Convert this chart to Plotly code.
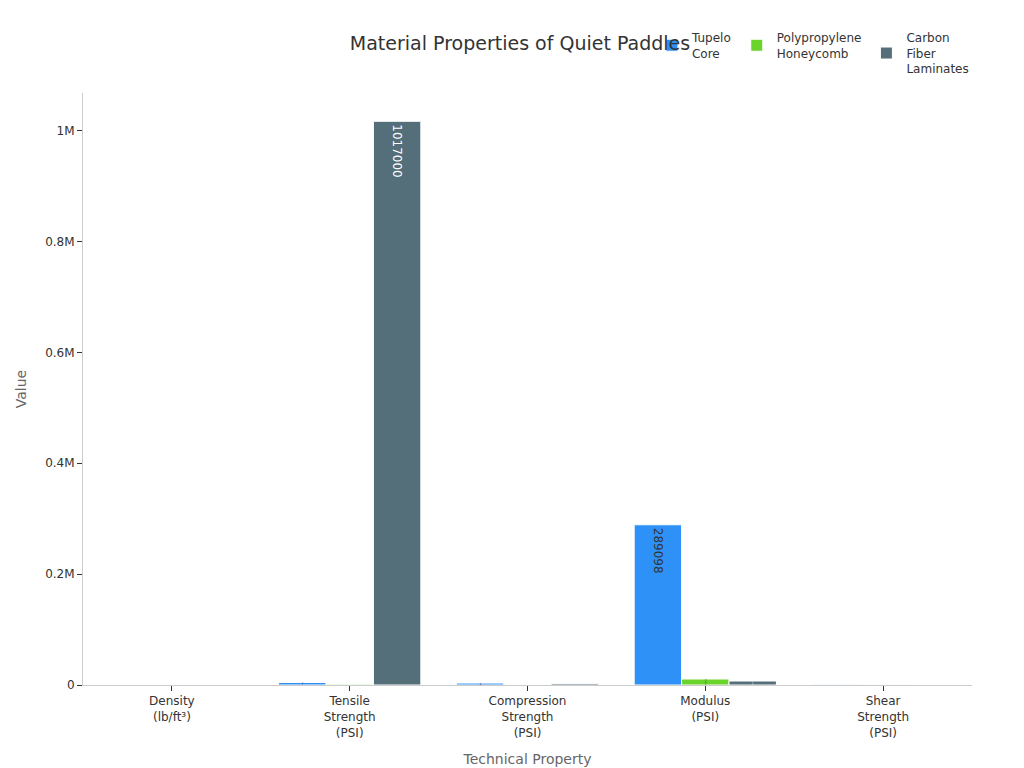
import plotly.graph_objects as go

categories = ["Density<br>(lb/ft³)", "Tensile<br>Strength<br>(PSI)", "Compression<br>Strength<br>(PSI)",
              "Modulus<br>(PSI)", "Shear<br>Strength<br>(PSI)"]
tupelo = [28, 4500, 3500, 289098, 1200]
polyprop = [5, 1500, 600, 10800, 300]
carbon = [100, 1017000, 2500, 7200, 800]
tick_vals = [0, 200000, 400000, 600000, 800000, 1000000]
tick_text = ["0", "0.2M", "0.4M", "0.6M", "0.8M", "1M"]

series = [("Tupelo<br>Core", tupelo, "#2E91F7", "#333333"),
          ("Polypropylene<br>Honeycomb", polyprop, "#6AD42B", "#333333"),
          ("Carbon<br>Fiber<br>Laminates", carbon, "#546E7A", "white")]

fig = go.Figure()
for name, vals, col, tcol in series:
    fig.add_trace(go.Bar(
        x=categories, y=vals, name=name, marker=dict(color=col, line=dict(color="white", width=1)),
        text=vals, textposition="inside", textangle=90, insidetextanchor="end",
        insidetextfont=dict(size=12, color=tcol)))

fig.update_layout(
    template="plotly_white", width=1024, height=768,
    font=dict(family="DejaVu Sans", size=12, color="#333"),
    title=dict(text="Material Properties of Quiet Paddles", x=0.5, y=0.954, yanchor="middle",
               font=dict(size=19)),
    barmode="group", bargap=0.2, bargroupgap=0,
    legend=dict(orientation="h", x=0.64, y=1.118, xanchor="left", yanchor="top", font=dict(size=12)),
    margin=dict(l=75, r=60, t=85, b=91),
    xaxis=dict(title=dict(text="Technical Property", font=dict(color="#666", size=14)), showline=True,
               linecolor="#ccc", ticks="outside", tickcolor="#333", showgrid=False),
    yaxis=dict(title=dict(text="Value", font=dict(color="#666", size=14)), showline=True, linecolor="#ccc",
               ticks="outside", tickcolor="#333", showgrid=False, zeroline=False,
               tickvals=tick_vals, ticktext=tick_text, range=[0, 1068000]),
)
fig.write_html("out.html")
